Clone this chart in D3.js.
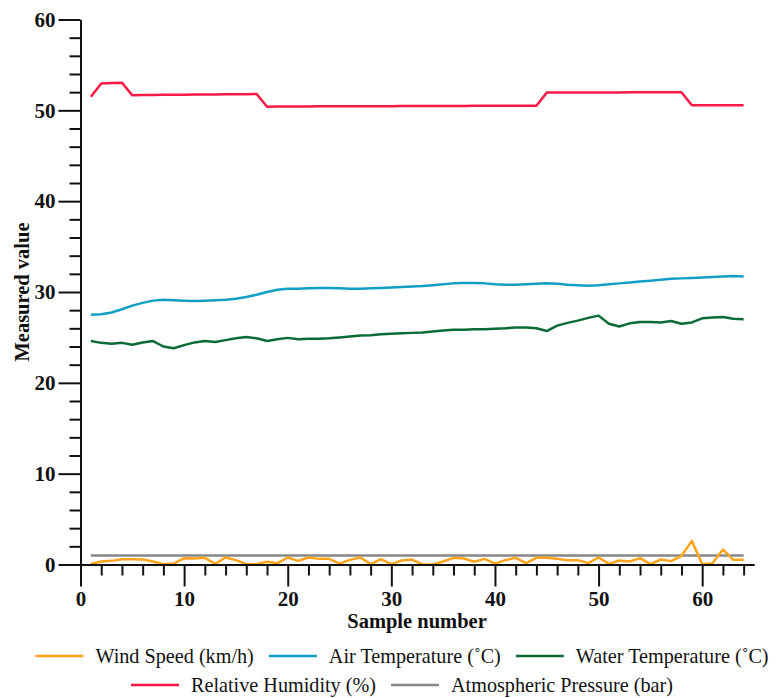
<!DOCTYPE html>
<html>
<head>
<meta charset="utf-8">
<script src="https://cdn.jsdelivr.net/npm/d3@7"></script>
<style>
  body { margin: 0; background: #fff; }
  svg text { font-family: "Liberation Serif", "Times New Roman", serif; }
</style>
</head>
<body>
<div id="chart"></div>
<script>
// sample numbers (x axis)
const samples = [1,2,3,4,5,6,7,8,9,10,11,12,13,14,15,16,17,18,19,20,21,22,23,24,25,26,27,28,29,30,31,32,
  33,34,35,36,37,38,39,40,41,42,43,44,45,46,47,48,49,50,51,52,53,54,55,56,57,58,59,60,61,62,63,64]

const windSpeed = [0.05,0.33,0.4,0.58,0.58,0.55,0.33,0.04,0.1,0.7,0.66,0.73,0.07,0.77,0.48,0.04,
  0.04,0.3,0.15,0.77,0.4,0.77,0.62,0.62,0.1,0.51,0.77,0.04,0.58,0.04,0.44,0.55,
  0.0,0.0,0.33,0.73,0.66,0.3,0.62,0.1,0.48,0.73,0.15,0.73,0.73,0.62,0.48,0.48,
  0.15,0.77,0.07,0.44,0.33,0.7,0.04,0.55,0.37,0.95,2.6,0.04,0.15,1.65,0.51,0.51]

const airTemp = [27.5,27.55,27.75,28.1,28.5,28.8,29.05,29.15,29.1,29.05,29.0,29.05,29.1,29.15,29.25,29.45,
  29.7,30.0,30.25,30.35,30.35,30.4,30.45,30.45,30.4,30.35,30.35,30.4,30.45,30.5,30.55,30.6,
  30.65,30.75,30.85,30.95,31.0,31.0,30.95,30.85,30.8,30.8,30.85,30.9,30.95,30.9,30.8,30.75,
  30.7,30.75,30.85,30.95,31.05,31.15,31.25,31.35,31.45,31.5,31.55,31.6,31.65,31.7,31.75,31.7]

const waterTemp = [24.6,24.4,24.3,24.4,24.2,24.45,24.6,24.0,23.8,24.15,24.45,24.6,24.5,24.7,24.9,25.05,
  24.9,24.6,24.8,24.95,24.8,24.85,24.85,24.9,25.0,25.1,25.2,25.25,25.35,25.4,25.45,25.5,
  25.55,25.65,25.75,25.85,25.85,25.9,25.9,25.95,26.0,26.1,26.1,26.0,25.7,26.3,26.6,26.85,
  27.15,27.4,26.5,26.2,26.55,26.7,26.7,26.65,26.8,26.5,26.65,27.1,27.2,27.25,27.05,27.0]

const humidity = [51.5,52.95,53.0,53.05,51.65,51.7,51.7,51.72,51.72,51.72,51.73,51.74,51.75,51.76,51.77,51.78,
  51.8,50.4,50.42,50.42,50.43,50.43,50.44,50.44,50.44,50.45,50.45,50.45,50.46,50.46,50.47,50.47,
  50.47,50.48,50.48,50.49,50.49,50.5,50.5,50.5,50.5,50.5,50.5,50.5,51.95,51.95,51.95,51.96,
  51.96,51.96,51.97,51.97,51.98,51.98,51.99,51.99,52.0,52.0,50.55,50.55,50.56,50.56,50.57,50.57]

const pressure = [1.0,1.0,1.0,1.0,1.0,1.0,1.0,1.0,1.0,1.0,1.0,1.0,1.0,1.0,1.0,1.0,
  1.0,1.0,1.0,1.0,1.0,1.0,1.0,1.0,1.0,1.0,1.0,1.0,1.0,1.0,1.0,1.0,
  1.0,1.0,1.0,1.0,1.0,1.0,1.0,1.0,1.0,1.0,1.0,1.0,1.0,1.0,1.0,1.0,
  1.0,1.0,1.0,1.0,1.0,1.0,1.0,1.0,1.0,1.0,1.0,1.0,1.0,1.0,1.0,1.0]

const seriesNames = ['Wind Speed (km/h)', 'Air Temperature (˚C)', 'Water Temperature (˚C)',
  'Relative Humidity (%)', 'Atmospheric Pressure (bar)']
const xMajorTicks = [0, 10, 20, 30, 40, 50, 60]
const yMajorTicks = [0, 10, 20, 30, 40, 50, 60]

// dimensions
const width = 777
const height = 698
const plot = { left: 80.5, top: 19.5, right: 754, bottom: 564.5 }

const svg = d3.select('#chart')
  .append('svg')
  .attr('width', width)
  .attr('height', height)

const xScale = d3.scaleLinear().domain([0, 65]).range([plot.left, plot.right])
const yScale = d3.scaleLinear().domain([0, 60]).range([plot.bottom, plot.top])

const series = [
  { name: seriesNames[0], values: windSpeed, color: '#ffa31a' },
  { name: seriesNames[1], values: airTemp, color: '#129fc6' },
  { name: seriesNames[2], values: waterTemp, color: '#0b6b35' },
  { name: seriesNames[3], values: humidity, color: '#fb1a45' },
  { name: seriesNames[4], values: pressure, color: '#878787' }
]

// draw order: pressure under wind speed like reference
const lineGen = d3.line()
  .x((d, i) => xScale(samples[i]))
  .y(d => yScale(d))

const drawOrder = [4, 3, 1, 2, 0]
svg.append('g')
  .selectAll('path')
  .data(drawOrder.map(i => series[i]))
  .join('path')
  .attr('d', d => lineGen(d.values))
  .attr('fill', 'none')
  .attr('stroke', d => d.color)
  .attr('stroke-width', 2.5)
  .attr('stroke-linejoin', 'round')

// axes
const xMinor = d3.range(0, 65, 2).filter(v => v % 10 !== 0)
const yMinor = d3.range(0, 61, 2).filter(v => v % 10 !== 0)

function styleAxis(g) {
  g.selectAll('.domain').attr('stroke', '#111').attr('stroke-width', 2)
  g.selectAll('.tick line').attr('stroke', '#111').attr('stroke-width', 2)
  g.selectAll('.tick text')
    .attr('font-family', '"Liberation Serif", serif')
    .attr('font-size', 21)
    .attr('font-weight', 'bold')
    .attr('fill', '#111')
}

svg.append('g')
  .attr('transform', `translate(0,${plot.bottom})`)
  .call(d3.axisBottom(xScale).tickValues(xMinor).tickSize(11).tickSizeOuter(0).tickFormat(''))
  .call(styleAxis)

svg.append('g')
  .attr('transform', `translate(0,${plot.bottom})`)
  .call(d3.axisBottom(xScale).tickValues(xMajorTicks).tickSize(22).tickSizeOuter(0).tickPadding(5))
  .call(styleAxis)

svg.append('g')
  .attr('transform', `translate(${plot.left},0)`)
  .call(d3.axisLeft(yScale).tickValues(yMinor).tickSize(11).tickSizeOuter(0).tickFormat(''))
  .call(styleAxis)

svg.append('g')
  .attr('transform', `translate(${plot.left},0)`)
  .call(d3.axisLeft(yScale).tickValues(yMajorTicks).tickSize(22).tickSizeOuter(0).tickPadding(3))
  .call(styleAxis)

// axis titles
svg.append('text')
  .attr('x', 417)
  .attr('y', 628)
  .attr('text-anchor', 'middle')
  .attr('font-size', 20.5)
  .attr('font-weight', 'bold')
  .attr('fill', '#111')
  .text('Sample number')

svg.append('text')
  .attr('transform', `translate(29,${(plot.top + plot.bottom) / 2}) rotate(-90)`)
  .attr('text-anchor', 'middle')
  .attr('font-size', 20.5)
  .attr('font-weight', 'bold')
  .attr('fill', '#111')
  .text('Measured value')

// legend, two centred rows
const legendRows = [[0, 1, 2], [3, 4]]
const rowY = [656, 685]
const lineLen = 48
const textGap = 12
const itemGap = 15
const legendCenter = 402

legendRows.forEach((row, r) => {
  const g = svg.append('g')
  const items = row.map(i => {
    const item = g.append('g')
    item.append('line')
      .attr('x1', 0).attr('x2', lineLen)
      .attr('y1', 0).attr('y2', 0)
      .attr('stroke', series[i].color)
      .attr('stroke-width', 2.5)
    const t = item.append('text')
      .attr('x', lineLen + textGap)
      .attr('y', 6.5)
      .attr('font-size', 20.2)
      .attr('fill', '#111')
      .text(series[i].name)
    const w = lineLen + textGap + t.node().getComputedTextLength()
    return { item, w }
  })
  const total = d3.sum(items, d => d.w) + itemGap * (items.length - 1)
  let x = legendCenter - total / 2
  items.forEach(d => {
    d.item.attr('transform', `translate(${x},${rowY[r]})`)
    x += d.w + itemGap
  })
})
</script>
</body>
</html>
